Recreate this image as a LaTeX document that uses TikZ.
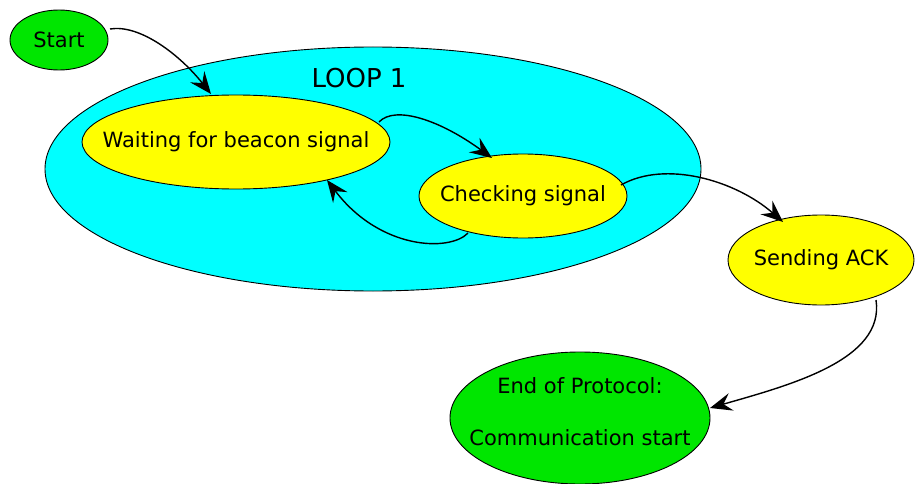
\documentclass[tikz,border=0pt]{standalone}
\usepackage{fontspec}
\setmainfont{DejaVu Sans}
\usetikzlibrary{shapes.geometric,arrows.meta}
\definecolor{stategreen}{RGB}{0,230,0}
\definecolor{loopcyan}{RGB}{0,255,255}
\definecolor{stateyellow}{RGB}{255,255,0}
\begin{document}
\begin{tikzpicture}[x=1pt,y=-1pt,
  state/.style={ellipse,draw=black,line width=0.9pt,inner sep=0pt},
  statetext/.style={font=\fontsize{21}{25}\selectfont,align=center,inner sep=0pt},
  trans/.style={line width=1.4pt,-{Stealth[length=22pt,width=18pt,inset=8pt]}}]
\useasboundingbox (0,0) rectangle (915,484);
% outer loop region
\node[state,fill=loopcyan,minimum width=656pt,minimum height=244pt] (loop) at (373,169) {};
\node[font=\fontsize{26}{30}\selectfont] (looplabel) at (359,78) {LOOP 1};
% states (the ellipse sets the size, the text sits at its centre)
\node[state,fill=stategreen,minimum width=98pt,minimum height=60pt] (start) at (59,40) {};
\node[statetext] at (start.center) {Start};
\node[state,fill=stateyellow,minimum width=308pt,minimum height=94pt] (wait) at (236,142) {};
\node[statetext] at (wait.center) {Waiting for beacon signal};
\node[state,fill=stateyellow,minimum width=208pt,minimum height=84pt] (check) at (523,196) {};
\node[statetext] at (check.center) {Checking signal};
\node[state,fill=stateyellow,minimum width=186pt,minimum height=90pt] (ack) at (821,260) {};
\node[statetext] at (ack.center) {Sending ACK};
\node[state,fill=stategreen,minimum width=260pt,minimum height=132pt] (end) at (580,418) {};
\node[statetext] at ([yshift=32pt]end.center) {End of Protocol:};
\node[statetext] at ([yshift=-20pt]end.center) {Communication start};
% transitions
\coordinate (s1) at (110,29);
\coordinate (t1) at (211,94);
\draw[trans] (s1) .. controls (140,24) and (180,55) .. (t1);
\coordinate (s2) at (379,122);
\coordinate (t2) at (492,158);
\draw[trans] (s2) .. controls (395,105) and (440,120) .. (t2);
\coordinate (s3) at (468,233);
\coordinate (t3) at (327,180);
\draw[trans] (s3) .. controls (450,252) and (380,250) .. (t3);
\coordinate (s4) at (621,185);
\coordinate (t4) at (783,222);
\draw[trans] (s4) .. controls (665,160) and (735,180) .. (t4);
\coordinate (s5) at (876,300);
\coordinate (t5) at (710,408);
\draw[trans] (s5) .. controls (885,360) and (790,385) .. (t5);
\end{tikzpicture}
\end{document}
